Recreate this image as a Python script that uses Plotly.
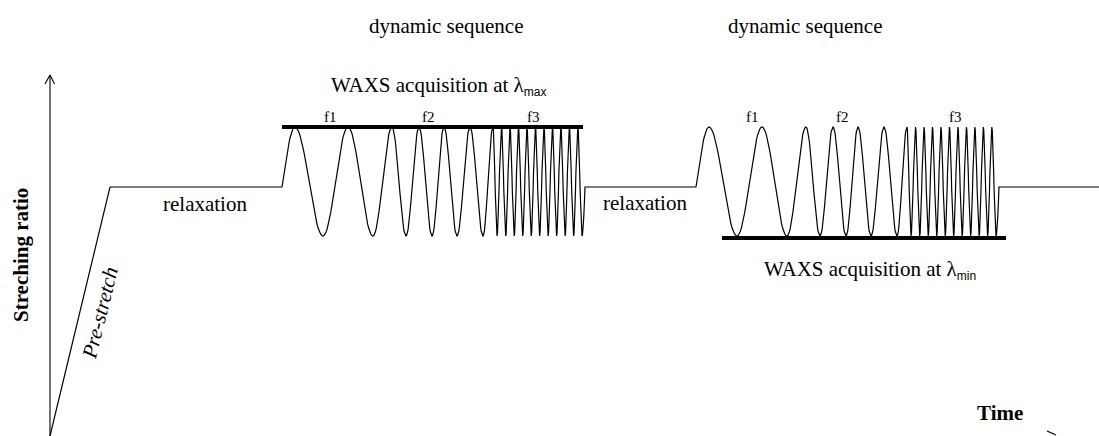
import numpy as np
import plotly.graph_objects as go

# ---------------- data (schematic, in time / stretch units) ----------------
axis_origin = (50, 0)
axis_top = 361
prestretch_end_t = 110
relax_level = 249          # stretching ratio during relaxation
peak_level = 309           # lambda max
trough_level = 200         # lambda min

seq_starts = [282, 696]    # start time of each dynamic sequence
seq_end_offset = 303       # return to relaxation level
end_time = 1099

# extremes of one dynamic sequence, relative to its start (peak, trough, ...)
f1_extremes = [13, 41, 66, 91]
f2_extremes = [110, 124, 137, 150, 162, 175, 188, 201]
f3_extremes = [211, 215, 219.5, 223.7, 228, 232.2, 236.4, 240.7, 244.9, 249.2,
               253.4, 257.6, 261.9, 266.1, 270.4, 274.6, 278.8, 283.1, 287.3,
               291.6, 295.8, 300]

freq_labels = ["f1", "f2", "f3"]
freq_label_t = [[330, 428, 533], [752, 842, 955]]

acq_bars_t = [(282, 583), (722, 1006)]
acq_bars_level = [309, 198]
# --------------------------------------------------------------------------


def half(t0, t1, y0, y1, s0=0.0, s1=1.0, n=24):
    s = np.linspace(s0, s1, n)
    t = t0 + (s - s0) / (s1 - s0) * (t1 - t0)
    y = y0 + (y1 - y0) * (1 - np.cos(np.pi * s)) / 2
    return t, y


def sequence(start):
    ext = f1_extremes + f2_extremes + f3_extremes
    levels = [peak_level if i % 2 == 0 else trough_level for i in range(len(ext))]
    sc = np.arccos(1 - 2 * (relax_level - trough_level) / (peak_level - trough_level)) / np.pi
    xs, ys = [], []
    t, y = half(start, start + ext[0], trough_level, peak_level, sc, 1.0)
    xs += list(t); ys += list(y)
    for i in range(len(ext) - 1):
        t, y = half(start + ext[i], start + ext[i + 1], levels[i], levels[i + 1],
                    n=24 if ext[i + 1] - ext[i] > 6 else 10)
        xs += list(t[1:]); ys += list(y[1:])
    t, y = half(start + ext[-1], start + seq_end_offset, trough_level, peak_level, 0.0, sc, n=6)
    xs += list(t[1:]); ys += list(y[1:])
    return xs, ys


X = [axis_origin[0], prestretch_end_t]
Y = [0, relax_level]
for st in seq_starts:
    X.append(st); Y.append(relax_level)
    sx, sy = sequence(st)
    X += sx; Y += sy
X.append(end_time); Y.append(relax_level)

fig = go.Figure()
fig.add_trace(go.Scatter(x=X, y=Y, mode="lines", line=dict(color="black", width=1.2),
                         hoverinfo="skip", showlegend=False))

for (a, b), lv in zip(acq_bars_t, acq_bars_level):
    fig.add_trace(go.Scatter(x=[a, b], y=[lv, lv], mode="lines",
                             line=dict(color="black", width=4), showlegend=False))

# vertical axis with arrow head
fig.add_trace(go.Scatter(x=[axis_origin[0], axis_origin[0]], y=[0, axis_top], mode="lines",
                         line=dict(color="black", width=1.1), showlegend=False))
fig.add_trace(go.Scatter(x=[axis_origin[0] - 5, axis_origin[0], axis_origin[0] + 4.5],
                         y=[axis_top - 9, axis_top, axis_top - 9], mode="lines",
                         line=dict(color="black", width=1.1), showlegend=False))
# time axis arrow barb (partly outside view)
fig.add_trace(go.Scatter(x=[1047, 1056], y=[5, 1], mode="lines",
                         line=dict(color="black", width=1.1), showlegend=False))

F = "Liberation Serif"
ann = []


def A(text, x, y, size=21, **kw):
    d = dict(text=text, x=x, y=y, xref="x", yref="y", showarrow=False,
             font=dict(family=F, size=size, color="black"), xanchor="center", yanchor="middle")
    d.update(kw)
    ann.append(d)


A("dynamic sequence", 446, 436 - 26)
A("dynamic sequence", 805, 436 - 26)
A('WAXS acquisition at λ<sub><span style="font-family:Liberation Sans;font-size:12px">max</span></sub>',
  438, 436 - 86)
A('WAXS acquisition at λ<sub><span style="font-family:Liberation Sans;font-size:12px">min</span></sub>',
  870, 436 - 270)
for row in freq_label_t:
    for lab, t in zip(freq_labels, row):
        A(lab, t, 436 - 117, size=15)
A("relaxation", 205, 436 - 204)
A("relaxation", 645, 436 - 203)
A("<b>Time</b>", 1000, 436 - 413)
A("<b>Streching ratio</b>", 21, 436 - 255, textangle=-90)
A("<i>Pre-stretch</i>", 100, 436 - 313, textangle=-76)

fig.update_layout(
    width=1099, height=436,
    margin=dict(l=0, r=0, t=0, b=0),
    paper_bgcolor="white", plot_bgcolor="white",
    xaxis=dict(range=[0, 1099], visible=False, fixedrange=True),
    yaxis=dict(range=[0, 436], visible=False, fixedrange=True),
    annotations=ann,
    showlegend=False,
)

fig.write_html("out.html", config={"displayModeBar": False},
               post_script="document.body.style.margin='0';")
